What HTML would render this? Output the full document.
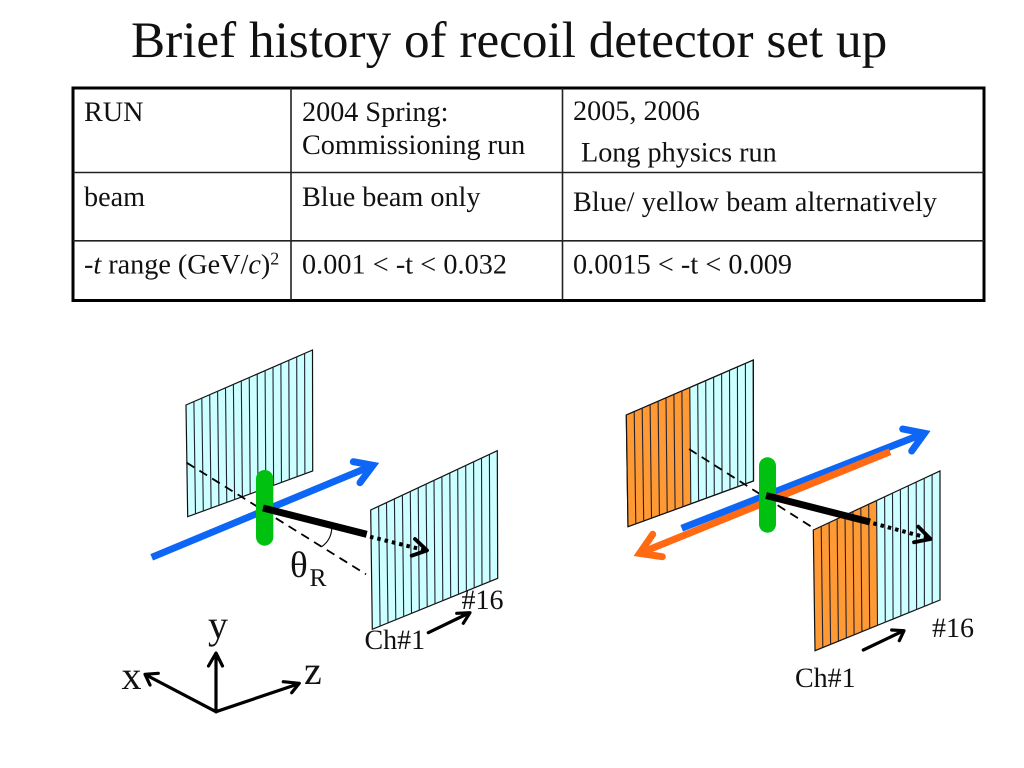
<!DOCTYPE html>
<html>
<head>
<meta charset="utf-8">
<style>
html,body{margin:0;padding:0;background:#fff;width:1024px;height:768px;overflow:hidden}
svg{display:block}
text{font-family:"Liberation Serif","Times New Roman",serif;fill:#111;text-rendering:geometricPrecision}
.t{font-size:28.2px}
.s{stroke-linecap:round;stroke-linejoin:round;fill:none}
.m{stroke-linecap:round;stroke-linejoin:miter;stroke-miterlimit:8;fill:none}
</style>
</head>
<body>
<svg width="1024" height="768" viewBox="0 0 1024 768" xmlns="http://www.w3.org/2000/svg">
<rect width="1024" height="768" fill="#fff"/>
<text x="131" y="57" font-size="51.2">Brief history of recoil detector set up</text>

<!-- table -->
<rect x="73" y="88" width="911" height="212.5" fill="#fff" stroke="#000" stroke-width="3"/>
<path d="M291 88V300M562.500 88V300M73 172.500H984M73 240.800H984" stroke="#222" stroke-width="1.600" fill="none"/>
<text class="t" x="84" y="121">RUN</text>
<text class="t" x="302" y="121">2004 Spring:</text>
<text class="t" x="302" y="154">Commissioning run</text>
<text class="t" x="573" y="120">2005, 2006</text>
<text class="t" x="581" y="161.500">Long physics run</text>
<text class="t" x="84" y="206">beam</text>
<text class="t" x="302" y="206">Blue beam only</text>
<text class="t" x="573" y="211" textLength="364">Blue/ yellow beam alternatively</text>
<text class="t" x="84" y="273.500">-<tspan font-style="italic">t</tspan> range (GeV/<tspan font-style="italic">c</tspan>)<tspan font-size="18" dy="-9">2</tspan></text>
<text class="t" x="302" y="273.500" textLength="205">0.001 &lt; -t &lt; 0.032</text>
<text class="t" x="573" y="273.500" textLength="219">0.0015 &lt; -t &lt; 0.009</text>

<!-- left drawing: panels -->
<path d="M186 405L312.500 350L312.700 471L187.700 516.700Z" fill="#ccffff" stroke="#111" stroke-width="1.200"/>
<path d="M193.900 401.600L195.500 513.800M201.800 398.100L203.300 511M209.700 394.700L211.100 508.100M217.600 391.250L218.950 505.300M225.500 387.800L226.800 502.400M233.400 384.400L234.600 499.600M241.300 380.900L242.400 496.700M249.250 377.500L250.200 493.900M257.200 374.100L258 491M265.100 370.600L265.800 488.100M273 367.200L273.600 485.300M280.900 363.750L281.450 482.400M288.800 360.300L289.300 479.600M296.700 356.900L297.100 476.700M304.600 353.400L304.900 473.900" stroke="#223" stroke-width="1.100" fill="none"/>
<path d="M370.700 510L497.300 450.700L497.700 578.300L372.300 629.300Z" fill="#ccffff" stroke="#111" stroke-width="1.200"/>
<path d="M378.600 506.300L380.100 626.100M386.500 502.600L388 623M394.400 498.900L395.800 619.700M402.400 495.200L403.700 616.600M410.300 491.500L411.500 613.400M418.200 487.800L419.300 610.200M426.100 484.100L427.200 607M434 480.400L435 603.800M441.900 476.600L442.800 600.600M449.800 472.900L450.700 597.400M457.700 469.200L458.500 594.200M465.700 465.500L466.400 591.100M473.600 461.800L474.200 587.900M481.500 458.100L482 584.700M489.400 454.400L489.900 581.500" stroke="#223" stroke-width="1.100" fill="none"/>

<!-- left drawing: beam and tracks -->
<path d="M186.700 462.700L366 574.300" stroke="#000" stroke-width="1.800" stroke-dasharray="9 6" fill="none"/>
<path d="M331.700 529Q331 540 321.700 546.700" stroke="#111" stroke-width="1.200" fill="none"/>
<path d="M151.700 557.300L373 465.300" stroke="#0d66f5" stroke-width="7" fill="none"/>
<path d="M353.300 461.700L373 465.300L360 482.700" class="m" stroke="#0d66f5" stroke-width="7"/>
<rect x="256" y="470" width="17.300" height="75.700" rx="8.650" fill="#00c010"/>
<path d="M263 508L366.700 534.300" stroke="#000" stroke-width="7" fill="none"/>
<path d="M370 536.700L424 550" stroke="#000" stroke-width="4" stroke-dasharray="3.500 4" fill="none"/>
<path d="M415 539L427 550.400L411.700 555.700" class="s" stroke="#000" stroke-width="3.800"/>
<text x="290" y="577" font-size="37">θ</text>
<text x="309.500" y="586" font-size="25.500">R</text>
<text x="461.500" y="609" font-size="28">#16</text>
<text x="364.500" y="649" font-size="28">Ch#1</text>
<path d="M428.300 632.700L469 613M456.700 613.300L470 612.700L463.300 623.300" class="s" stroke="#000" stroke-width="3.200"/>

<!-- axes -->
<text x="208" y="638" font-size="40">y</text>
<text x="121.500" y="689" font-size="40">x</text>
<text x="304" y="684" font-size="40">z</text>
<path d="M216 711.700V654M208.500 666L216 653L222.500 666" class="s" stroke="#000" stroke-width="3.200"/>
<path d="M216 711.700L298 684M283.300 681.700L299.300 683.300L291.700 692.700" class="s" stroke="#000" stroke-width="3.200"/>
<path d="M216 711.700L147 675.500M158.300 673.300L145 674.300L150 685" class="s" stroke="#000" stroke-width="3.200"/>

<!-- right drawing: panels -->
<path d="M626.300 415L753.300 360L753.500 481L628 526.700Z" fill="#ccffff" stroke="#111" stroke-width="1.200"/>
<path d="M626.300 415L689.800 387.500L690.800 503.900L628 526.700Z" fill="#ff9933"/>
<path d="M626.300 415L753.300 360L753.500 481L628 526.700Z" fill="none" stroke="#111" stroke-width="1.200"/>
<path d="M634.200 411.600L635.800 523.800M642.200 408.100L643.700 521M650.100 404.700L651.500 518.100M658.100 401.300L659.400 515.300M666 397.800L667.200 512.400M673.900 394.400L675.100 509.600M681.900 390.900L682.900 506.700M689.800 387.500L690.800 503.900M697.700 384.100L698.600 501M705.700 380.600L706.400 498.100M713.600 377.200L714.300 495.300M721.600 373.800L722.100 492.400M729.500 370.300L730 489.600M737.400 366.900L737.800 486.700M745.400 363.400L745.700 483.900" stroke="#223" stroke-width="1.100" fill="none"/>
<path d="M813.300 530L940 471L940 600L815 650.700Z" fill="#ccffff"/>
<path d="M813.300 530L876.600 500.500L877.500 625.400L815 650.700Z" fill="#ff9933"/>
<path d="M813.300 530L940 471L940 600L815 650.700Z" fill="none" stroke="#111" stroke-width="1.200"/>
<path d="M821.200 526.300L822.800 647.500M829.100 522.600L830.600 644.400M837.100 518.900L838.400 641.200M845 515.300L846.300 638M852.900 511.600L854.100 634.900M860.800 507.900L861.900 631.700M868.700 504.200L869.700 628.500M876.600 500.500L877.500 625.400M884.600 496.800L885.300 622.200M892.500 493.100L893.100 619M900.400 489.400L900.900 615.800M908.300 485.800L908.800 612.700M916.200 482.100L916.600 609.500M924.200 478.400L924.400 606.300M932.100 474.700L932.200 603.200" stroke="#223" stroke-width="1.100" fill="none"/>

<!-- right drawing: beams and tracks -->
<path d="M689 449L815 529" stroke="#000" stroke-width="1.800" stroke-dasharray="9 6" fill="none"/>
<path d="M681.700 528.300L924.500 433.300" stroke="#0d66f5" stroke-width="7" fill="none"/>
<path d="M902.700 429L924.500 433.300L911.700 451" class="m" stroke="#0d66f5" stroke-width="7"/>
<path d="M890 451.700L639.600 553.400" stroke="#ff6a13" stroke-width="7" fill="none"/>
<path d="M652.700 534.300L639.600 553.400L662.300 556.700" class="m" stroke="#ff6a13" stroke-width="7"/>
<rect x="759" y="457.300" width="17" height="75.400" rx="8.500" fill="#00c010"/>
<path d="M766 495.500L870 522" stroke="#000" stroke-width="7" fill="none"/>
<path d="M873.300 523.300L930 538.500" stroke="#000" stroke-width="4" stroke-dasharray="3.500 4" fill="none"/>
<path d="M918.300 526.700L930.500 539L914 542.300" class="s" stroke="#000" stroke-width="3.800"/>
<text x="932" y="637" font-size="28">#16</text>
<text x="795" y="687" font-size="28">Ch#1</text>
<path d="M863.300 650L903 631M891.700 630L904 630.700L899.300 640.700" class="s" stroke="#000" stroke-width="3.200"/>
</svg>
</body>
</html>
